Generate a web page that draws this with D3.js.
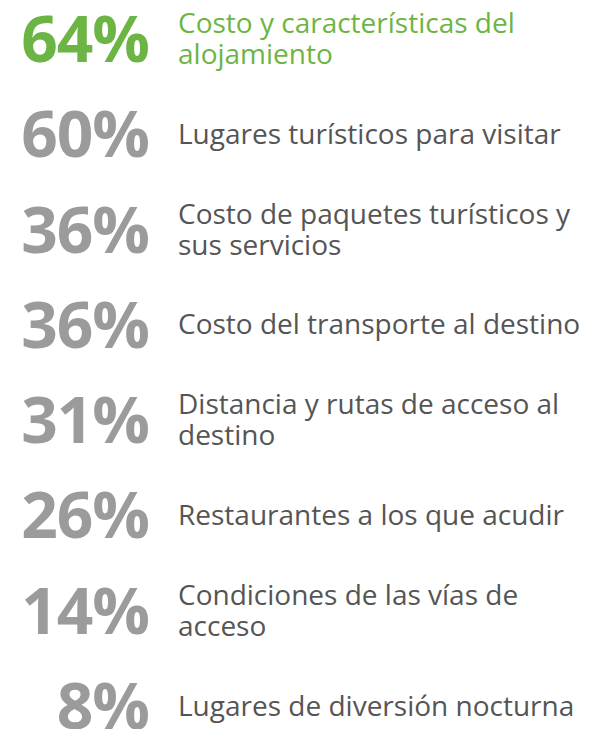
<!DOCTYPE html>
<html>
<head>
<meta charset="utf-8">
<script src="https://cdn.jsdelivr.net/npm/d3@7"></script>
<style>
  body { margin: 0; background: #fff; }
  svg { display: block; }
</style>
</head>
<body>
<div id="chart"></div>
<script>
var percents = [64, 60, 36, 36, 31, 26, 14, 8];
var labels = [
    ['Costo y características del', 'alojamiento'],
    ['Lugares turísticos para visitar'],
    ['Costo de paquetes turísticos y', 'sus servicios'],
    ['Costo del transporte al destino'],
    ['Distancia y rutas de acceso al', 'destino'],
    ['Restaurantes a los que acudir'],
    ['Condiciones de las vías de', 'acceso'],
    ['Lugares de diversión nocturna']
];
var highlight = [true, false, false, false, false, false, false, false];

var width = 592;
var height = 729;

var rows = percents.map(function(p, i) {
    return {'value': p, 'label': labels[i], 'hl': highlight[i]};
});

// baseline of each big number
var y = d3.scalePoint().domain(d3.range(rows.length)).range([62, 729]);
var lineHeight = 31;

var chart = d3.select('#chart')
    .append('svg')
    .attr('width', width)
    .attr('height', height);

var row = chart.selectAll('g')
    .data(rows)
    .enter()
    .append('g')
    .attr('transform', function(d, i) { return 'translate(0,' + y(i) + ')'; });

row.append('text')
    .attr('x', 149)
    .attr('text-anchor', 'end')
    .attr('font-family', 'Open Sans')
    .attr('font-weight', 700)
    .attr('font-size', 64)
    .attr('letter-spacing', -1)
    .attr('fill', function(d) { return d.hl ? '#6cb545' : '#9b9b9b'; })
    .text(function(d) { return d.value + '%'; });

// one text per line so that each line stays its own box
row.each(function(d) {
    var n = d.label.length;
    d3.select(this).selectAll('text.label')
        .data(d.label)
        .enter()
        .append('text')
        .attr('class', 'label')
        .attr('x', 178)
        .attr('y', function(t, j) { return -13.5 + (j - (n - 1) / 2) * lineHeight; })
        .attr('font-family', 'Open Sans')
        .attr('font-size', 28)
        .attr('fill', d.hl ? '#6cb545' : '#555555')
        .text(function(t) { return t; });
});
</script>
</body>
</html>
